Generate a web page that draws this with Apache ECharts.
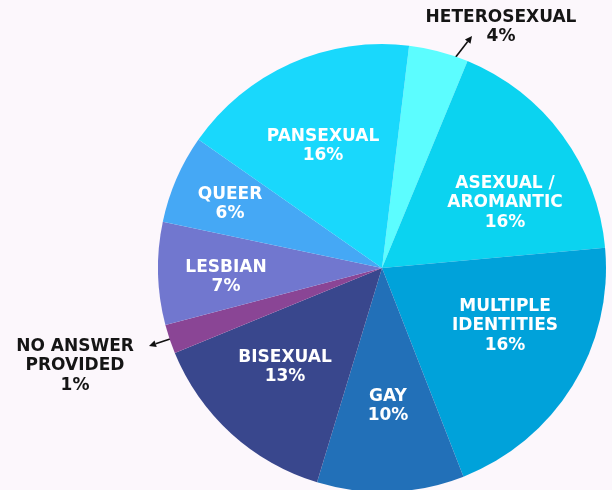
<!DOCTYPE html>
<html>
<head>
<meta charset="utf-8">
<script src="https://cdn.jsdelivr.net/npm/echarts@6/dist/echarts.min.js"></script>
<style>
  html, body { margin: 0; padding: 0; background: #fcf7fc; }
  #chart { width: 612px; height: 490px; }
</style>
</head>
<body>
<div id="chart"></div>
<script>
// slices clockwise, starting just right of 12 o'clock
const categories = ['HETEROSEXUAL', 'ASEXUAL /\nAROMANTIC', 'MULTIPLE\nIDENTITIES', 'GAY', 'BISEXUAL',
  'NO ANSWER\nPROVIDED', 'LESBIAN', 'QUEER', 'PANSEXUAL'];
// slice sizes as drawn in the picture (% of circle)
const sliceValues = [4.3, 17.3, 20.5, 10.6, 14.1, 2.1, 7.4, 6.4, 17.2];
// percentages printed in the labels
const labelPercents = [4, 16, 16, 10, 13, 1, 7, 6, 16];
const colors = ['#5cfdff', '#0bd3f0', '#00a2da', '#2270b8', '#39478d', '#8a4595', '#7177cf', '#45a8f5', '#19d8fc'];
const outside = [true, false, false, false, false, true, false, false, false];

// label anchor points (px)
const labelPos = [[501, 27], [505, 203], [505, 326], [388, 406], [285, 367], [75, 366], [226, 277], [230, 204], [323, 146]];

const chart = echarts.init(document.getElementById('chart'));

function arrow(x1, y1, x2, y2) {
  const a = Math.atan2(y2 - y1, x2 - x1);
  const len = 7, w = 3.5;
  const bx = x2 - len * Math.cos(a), by = y2 - len * Math.sin(a);
  return [
    { type: 'line', shape: { x1: x1, y1: y1, x2: bx, y2: by }, style: { stroke: '#111', lineWidth: 1.6 }, silent: true },
    { type: 'polygon', shape: { points: [[x2, y2],
      [bx + w * Math.sin(a), by - w * Math.cos(a)],
      [bx - w * Math.sin(a), by + w * Math.cos(a)]] }, style: { fill: '#111' }, silent: true }
  ];
}

const option = {
  backgroundColor: '#fcf7fc',
  animation: false,
  series: [{
    type: 'pie',
    center: [382, 268],
    radius: 224,
    startAngle: 83.05,
    clockwise: true,
    avoidLabelOverlap: false,
    emphasis: { disabled: true },
    itemStyle: { borderWidth: 0 },
    labelLine: { show: false },
    label: {
      show: true,
      fontFamily: 'DejaVu Sans',
      fontWeight: 'bold',
      fontSize: 17,
      lineHeight: 19.5,
      align: 'center',
      formatter: p => p.name + '\n' + labelPercents[p.dataIndex] + '%'
    },
    labelLayout: p => ({ x: labelPos[p.dataIndex][0], y: labelPos[p.dataIndex][1], align: 'center', verticalAlign: 'middle' }),
    data: categories.map((c, i) => ({
      name: c,
      value: sliceValues[i],
      itemStyle: { color: colors[i] },
      label: { color: outside[i] ? '#151515' : '#ffffff' }
    }))
  }],
  graphic: [].concat(arrow(455, 58, 472, 36), arrow(170, 339, 149, 346))
};
chart.setOption(option);
</script>
</body>
</html>
